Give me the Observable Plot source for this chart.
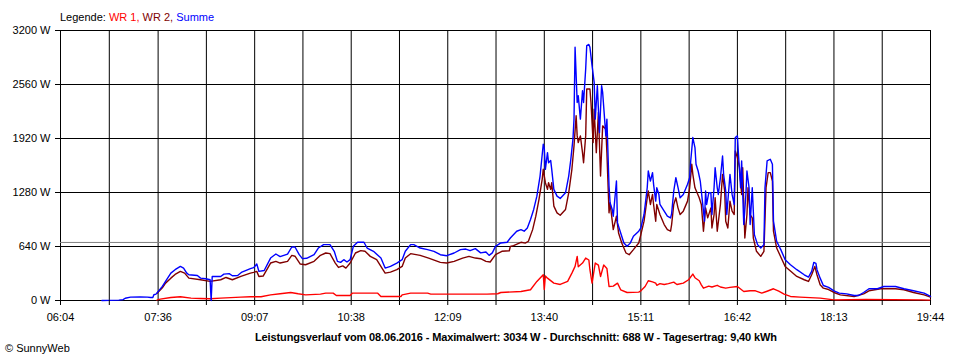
<!DOCTYPE html>
<html><head><meta charset="utf-8">
<script src="https://cdn.jsdelivr.net/npm/d3@7"></script>
<script src="https://cdn.jsdelivr.net/npm/@observablehq/plot@0.6"></script>
<style>body{margin:0;background:#fff;}</style>
</head><body><div id="chart"></div>
<script>
// ---- data (time in minutes of the day, power in W) ----
const timeLabels = ["06:04","07:36","09:07","10:38","12:09","13:40","15:11","16:42","18:13","19:44"];
const powerTicks = [0, 640, 1280, 1920, 2560, 3200];
const seriesNames = ["WR 1", "WR 2", "Summe"];
const reportDate = "08.06.2016";
const maxW = 3034;
const avgW = 688;
const dayYield = "9,40 kWh";

const wr1T = [455,458,468,477,487,496,505,515,534,543,553,562,571,581,588,595,609,614,621,624,637,639,663,666,685,686,694,710,713,766,776,779,798,807,813,819,820,821,823,829,835,842,846,849,851,852,856,859,862,863,865,868,871,873,876,879,881,885,889,892,898,909,911,915,918,922,925,926,929,933,937,942,945,951,956,960,962,966,968,970,975,978,983,986,991,995,1002,1008,1014,1019,1025,1030,1036,1041,1046,1052,1061,1080,1093,1123,1175,1184];
const wr1W = [5,16,36,44,28,24,20,28,40,44,44,67,80,95,80,67,75,87,87,59,59,87,87,48,48,67,87,87,75,75,80,95,107,127,226,305,130,290,265,206,190,226,325,404,523,400,444,503,480,365,206,444,420,285,420,380,166,170,206,127,95,99,115,166,234,220,206,180,200,190,200,218,190,206,246,313,270,234,186,146,170,160,180,160,146,155,166,107,115,115,87,110,139,110,75,48,40,28,8,12,8,5];

const wr2T = [455,460,463,468,472,477,481,485,496,505,515,520,526,534,543,546,549,551,555,562,567,571,578,582,585,590,595,603,609,614,618,623,626,630,633,637,642,647,651,656,662,667,670,675,681,686,689,694,703,711,722,728,735,743,749,755,760,765,769,774,780,787,788,791,798,802,805,809,812,815,818,819,821,823,824,826,827,829,832,835,840,843,846,848,850,851,852,854,856,857,859,860,863,864,866,867,869,871,873,875,878,879,881,882,885,888,890,893,897,900,904,909,911,914,917,918,920,922,923,925,926,929,933,936,939,940,942,944,946,948,951,955,957,959,960,962,966,968,970,972,974,977,978,980,981,983,986,988,990,991,993,995,997,999,1000,1002,1004,1006,1007,1009,1011,1012,1014,1016,1017,1020,1024,1027,1029,1031,1033,1035,1036,1039,1043,1047,1052,1058,1065,1069,1072,1075,1077,1080,1083,1088,1093,1099,1112,1121,1126,1137,1151,1159,1168,1178,1184];
const wr2W = [87,150,206,265,309,345,325,265,246,226,246,273,246,285,325,333,345,285,290,444,464,444,464,535,525,432,424,464,535,563,555,444,392,410,384,444,563,591,583,523,484,384,325,337,365,404,503,555,535,503,452,444,464,503,523,503,495,464,456,543,583,590,642,650,690,680,702,840,999,1198,1436,1555,1396,1317,1396,1317,1396,1118,1039,1011,1079,1276,1555,1832,2189,1951,1872,1951,1752,1633,1951,2506,2506,2347,1872,2268,1752,2228,1475,2070,2030,1752,1039,1158,840,999,801,682,563,543,603,682,781,940,1217,1297,1138,1257,1138,940,1138,1019,900,840,821,900,1138,1217,1098,1019,1059,1178,1336,1614,1495,1336,1217,1138,821,1098,979,1098,860,1019,1217,821,1138,1495,1297,940,860,1178,1059,1019,1773,1693,1574,1257,1574,741,1019,1336,1019,979,741,583,523,583,1336,1515,1515,1416,821,622,513,404,350,285,246,226,305,404,305,186,146,130,95,67,48,79,115,139,139,127,95,67,40];

const sumT = [403,419,423,425,430,439,446,449,451,452,454,455,460,463,468,472,477,480,483,485,493,496,501,505,506,507,515,518,523,526,531,535,543,546,549,551,556,562,567,571,578,582,585,589,592,596,603,607,612,618,622,625,628,631,634,637,640,644,650,653,659,666,670,675,681,686,689,694,697,703,710,716,722,728,735,741,746,750,755,760,765,768,771,774,779,785,788,794,798,801,804,807,810,813,816,819,820,821,823,824,826,827,829,832,835,840,843,845,847,848,849,851,852,854,856,857,859,860,862,863,865,867,868,870,872,874,875,878,879,881,882,884,885,888,889,892,895,898,901,904,909,911,914,917,918,920,922,923,925,926,928,929,933,936,939,940,942,944,946,948,951,955,957,958,960,962,963,965,967,969,971,972,973,975,977,978,980,981,983,984,986,988,989,991,992,994,995,997,999,1000,1002,1003,1005,1006,1008,1010,1011,1013,1014,1016,1018,1021,1024,1027,1028,1030,1033,1035,1036,1039,1043,1047,1052,1058,1065,1069,1072,1074,1076,1077,1080,1083,1088,1093,1098,1105,1112,1116,1121,1126,1134,1140,1151,1159,1168,1178,1184];
const sumW = [0,5,10,27,40,42,40,35,35,68,75,90,167,226,325,365,404,385,325,305,297,265,258,246,0,285,285,313,318,293,297,337,377,389,432,345,355,503,551,520,550,634,634,543,496,500,543,622,662,662,583,464,452,484,456,484,642,690,690,622,583,503,384,404,444,484,583,662,662,622,603,583,543,531,563,603,610,590,615,565,575,535,565,642,682,690,741,821,840,821,860,960,1079,1237,1475,1852,1800,1555,1752,1633,1660,1555,1317,1237,1210,1276,1475,1674,1912,2150,3002,2347,2427,2150,2486,2347,2744,3022,3034,3002,2784,2585,2150,2546,1990,2546,2466,1951,2150,1356,1158,1079,999,1416,920,801,682,642,680,761,821,860,1019,1336,1535,1416,1515,1377,1178,1336,1257,1138,1059,999,979,1030,1297,1455,1340,1217,1257,1377,1455,1654,1931,1812,1614,1535,1416,1178,940,1297,1138,1277,1277,1019,1336,1574,1336,1257,1455,1713,1495,1297,1019,1336,1495,1257,1138,1931,1951,1733,1336,1654,900,1257,1535,1336,900,1336,781,662,622,662,1336,1654,1674,1614,940,702,600,484,424,365,305,277,345,452,440,365,265,178,155,115,87,79,59,59,95,139,139,166,166,139,115,87,48];

// ---- helpers ----
const toMin = s => { const [h, m] = s.split(":").map(Number); return h * 60 + m; };
const labelMins = timeLabels.map(toMin);
const gridMins = [];
labelMins.forEach((m, i) => { gridMins.push(m); if (i < labelMins.length - 1) gridMins.push((m + labelMins[i + 1]) / 2); });
const labelMap = new Map(labelMins.map((m, i) => [m, timeLabels[i]]));
const rows = (T, W) => T.map((t, i) => ({t, w: W[i]}));
const colors = ["#ff0000", "#800000", "#0000ff"];
const FONT = "'Liberation Sans',Arial,sans-serif";

const plot = Plot.plot({
  width: 960, height: 360,
  marginTop: 30, marginBottom: 60, marginLeft: 60, marginRight: 30,
  x: {domain: [labelMins[0], labelMins[labelMins.length - 1]]},
  y: {domain: [0, 3200]},
  style: {fontFamily: FONT, fontSize: "11px", color: "black", background: "white", overflow: "visible"},
  marks: [
    Plot.ruleX(gridMins, {stroke: "black"}),
    Plot.ruleY(powerTicks, {stroke: "black"}),
    Plot.ruleY([avgW], {stroke: "#808080"}),
    Plot.line(rows(wr1T, wr1W), {x: "t", y: "w", stroke: colors[0], strokeWidth: 1.4}),
    Plot.line(rows(wr2T, wr2W), {x: "t", y: "w", stroke: colors[1], strokeWidth: 1.4}),
    Plot.line(rows(sumT, sumW), {x: "t", y: "w", stroke: colors[2], strokeWidth: 1.4}),
    Plot.axisY({ticks: powerTicks, tickFormat: d => `${d} W`, tickSize: 5, tickPadding: 5, label: null}),
    Plot.axisX({ticks: gridMins, tickFormat: d => labelMap.get(d) ?? "", tickSize: 5, tickPadding: 8, label: null})
  ]
});

const svg = d3.select(plot);
const lg = svg.append("text").attr("x", 60).attr("y", 20.5).attr("text-anchor", "start")
  .style("font-family", FONT).style("font-size", "11px");
lg.append("tspan").attr("fill", "black").text("Legende: ");
seriesNames.forEach((n, i) => {
  lg.append("tspan").attr("fill", colors[i]).text(n + (i < seriesNames.length - 1 ? ", " : ""));
});
svg.append("text").attr("x", 255).attr("y", 341).attr("text-anchor", "start")
  .attr("textLength", 522).attr("lengthAdjust", "spacing")
  .style("font-family", FONT).style("font-size", "11px").style("font-weight", "bold")
  .attr("fill", "black")
  .text(`Leistungsverlauf vom ${reportDate} - Maximalwert: ${maxW} W - Durchschnitt: ${avgW} W - Tagesertrag: ${dayYield}`);
svg.append("text").attr("x", 5).attr("y", 352).attr("text-anchor", "start")
  .style("font-family", FONT).style("font-size", "11px").attr("fill", "black")
  .text("© SunnyWeb");

document.getElementById("chart").appendChild(plot);
</script></body></html>
